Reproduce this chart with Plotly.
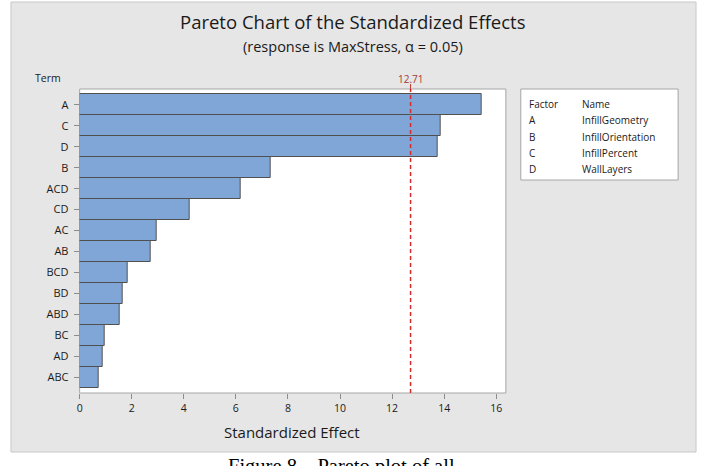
import plotly.graph_objects as go

terms = ["A", "C", "D", "B", "ACD", "CD", "AC", "AB", "BCD", "BD", "ABD", "BC", "AD", "ABC"]
effects = [15.43, 13.88, 13.74, 7.33, 6.18, 4.24, 2.96, 2.73, 1.86, 1.67, 1.55, 0.95, 0.87, 0.73]
critical = 12.71
x_ticks = [0, 2, 4, 6, 8, 10, 12, 14, 16]
factors = ["A", "B", "C", "D"]
names = ["InfillGeometry", "InfillOrientation", "InfillPercent", "WallLayers"]

W, H = 704, 466
FONT = "Open Sans"
x0, x1 = 77 / W, 505 / W
y0, y1 = 1 - 393 / H, 1 - 89 / H

fig = go.Figure()
fig.add_trace(go.Bar(
    x=effects, y=terms, orientation="h", width=1,
    marker=dict(color="#7fa6d6", line=dict(color="#505050", width=1)),
    hoverinfo="x+y",
))

shapes = []
shapes.append(dict(type="rect", xref="paper", yref="paper", x0=8 / W, x1=696 / W,
                   y0=1 - 452 / H, y1=1 - 2 / H, fillcolor="#e6e6e6",
                   line=dict(color="#c8c8c8", width=1), layer="below"))
shapes.append(dict(type="rect", xref="paper", yref="paper", x0=x0, x1=x1, y0=y0, y1=y1,
                   fillcolor="white", line=dict(color="#a6a6a6", width=1), layer="below"))
shapes.append(dict(type="line", xref="x", yref="paper", x0=critical, x1=critical,
                   y0=y0, y1=y1, line=dict(color="#d62a2a", width=1.5, dash="4px,3px")))
shapes.append(dict(type="line", xref="x", yref="paper", x0=critical, x1=critical,
                   y0=y1, y1=1 - 84 / H, line=dict(color="#c0392b", width=1)))
shapes.append(dict(type="rect", xref="paper", yref="paper", x0=520 / W, x1=678 / W,
                   y0=1 - 180 / H, y1=1 - 89 / H, fillcolor="white",
                   line=dict(color="#a6a6a6", width=1)))

ann = []
ann.append(dict(text="Pareto Chart of the Standardized Effects", xref="paper", yref="paper",
                x=351 / W, y=1 - 22 / H, showarrow=False, xanchor="center", yanchor="middle",
                font=dict(family=FONT, size=18.5, color="#1a1a1a")))
ann.append(dict(text="(response is MaxStress, α = 0.05)", xref="paper", yref="paper",
                x=351 / W, y=1 - 46 / H, showarrow=False, xanchor="center", yanchor="middle",
                font=dict(family=FONT, size=14.5, color="#1a1a1a")))
ann.append(dict(text="Term", xref="paper", yref="paper", x=30 / W, y=1 - 78 / H,
                showarrow=False, xanchor="left", yanchor="middle",
                font=dict(family=FONT, size=10.5, color="#1a1a1a")))
ann.append(dict(text=f"{critical:.2f}", xref="x", yref="paper", x=critical, y=1 - 79 / H,
                showarrow=False, xanchor="center", yanchor="middle",
                font=dict(family=FONT, size=10, color="#a33a36")))
ann.append(dict(text="Factor", xref="paper", yref="paper", x=526 / W, y=1 - 104 / H,
                showarrow=False, xanchor="left", yanchor="middle",
                font=dict(family=FONT, size=10, color="#1a1a1a")))
ann.append(dict(text="Name", xref="paper", yref="paper", x=579 / W, y=1 - 104 / H,
                showarrow=False, xanchor="left", yanchor="middle",
                font=dict(family=FONT, size=10, color="#1a1a1a")))
for i, (f, n) in enumerate(zip(factors, names)):
    yy = 1 - (120.5 + i * 16.2) / H
    ann.append(dict(text=f, xref="paper", yref="paper", x=526 / W, y=yy,
                    showarrow=False, xanchor="left", yanchor="middle",
                    font=dict(family=FONT, size=10, color="#1a1a1a")))
    ann.append(dict(text=n, xref="paper", yref="paper", x=579 / W, y=yy,
                    showarrow=False, xanchor="left", yanchor="middle",
                    font=dict(family=FONT, size=10, color="#1a1a1a")))
ann.append(dict(text="Standardized Effect", xref="paper", yref="paper", x=290 / W, y=1 - 432 / H,
                showarrow=False, xanchor="center", yanchor="middle",
                font=dict(family=FONT, size=15, color="#1a1a1a")))
ann.append(dict(text="Figure 8 – Pareto plot of all", xref="paper", yref="paper", x=340 / W,
                y=1 - 453 / H, showarrow=False, xanchor="center", yanchor="top",
                font=dict(family="Liberation Serif", size=20.5, color="#000000")))

fig.update_layout(
    width=W, height=H, margin=dict(l=0, r=0, t=0, b=0),
    paper_bgcolor="white", plot_bgcolor="rgba(0,0,0,0)",
    showlegend=False, bargap=0,
    shapes=shapes, annotations=ann,
    xaxis=dict(domain=[x0, x1], range=[0, 16.37], tickvals=x_ticks,
               ticks="outside", ticklen=5, tickcolor="#8c8c8c", showgrid=False,
               zeroline=False, showline=False,
               tickfont=dict(family=FONT, size=10.5, color="#1a1a1a")),
    yaxis=dict(domain=[y0, y1], range=[13.76, -0.76], type="category",
               categoryorder="array", categoryarray=terms,
               ticks="outside", ticklen=5, tickcolor="#8c8c8c", showgrid=False,
               zeroline=False, showline=False, ticklabelstandoff=3,
               tickfont=dict(family=FONT, size=11, color="#1a1a1a")),
)

fig.write_html("out.html", config={"displayModeBar": False},
               post_script="document.body.style.margin='0';")
